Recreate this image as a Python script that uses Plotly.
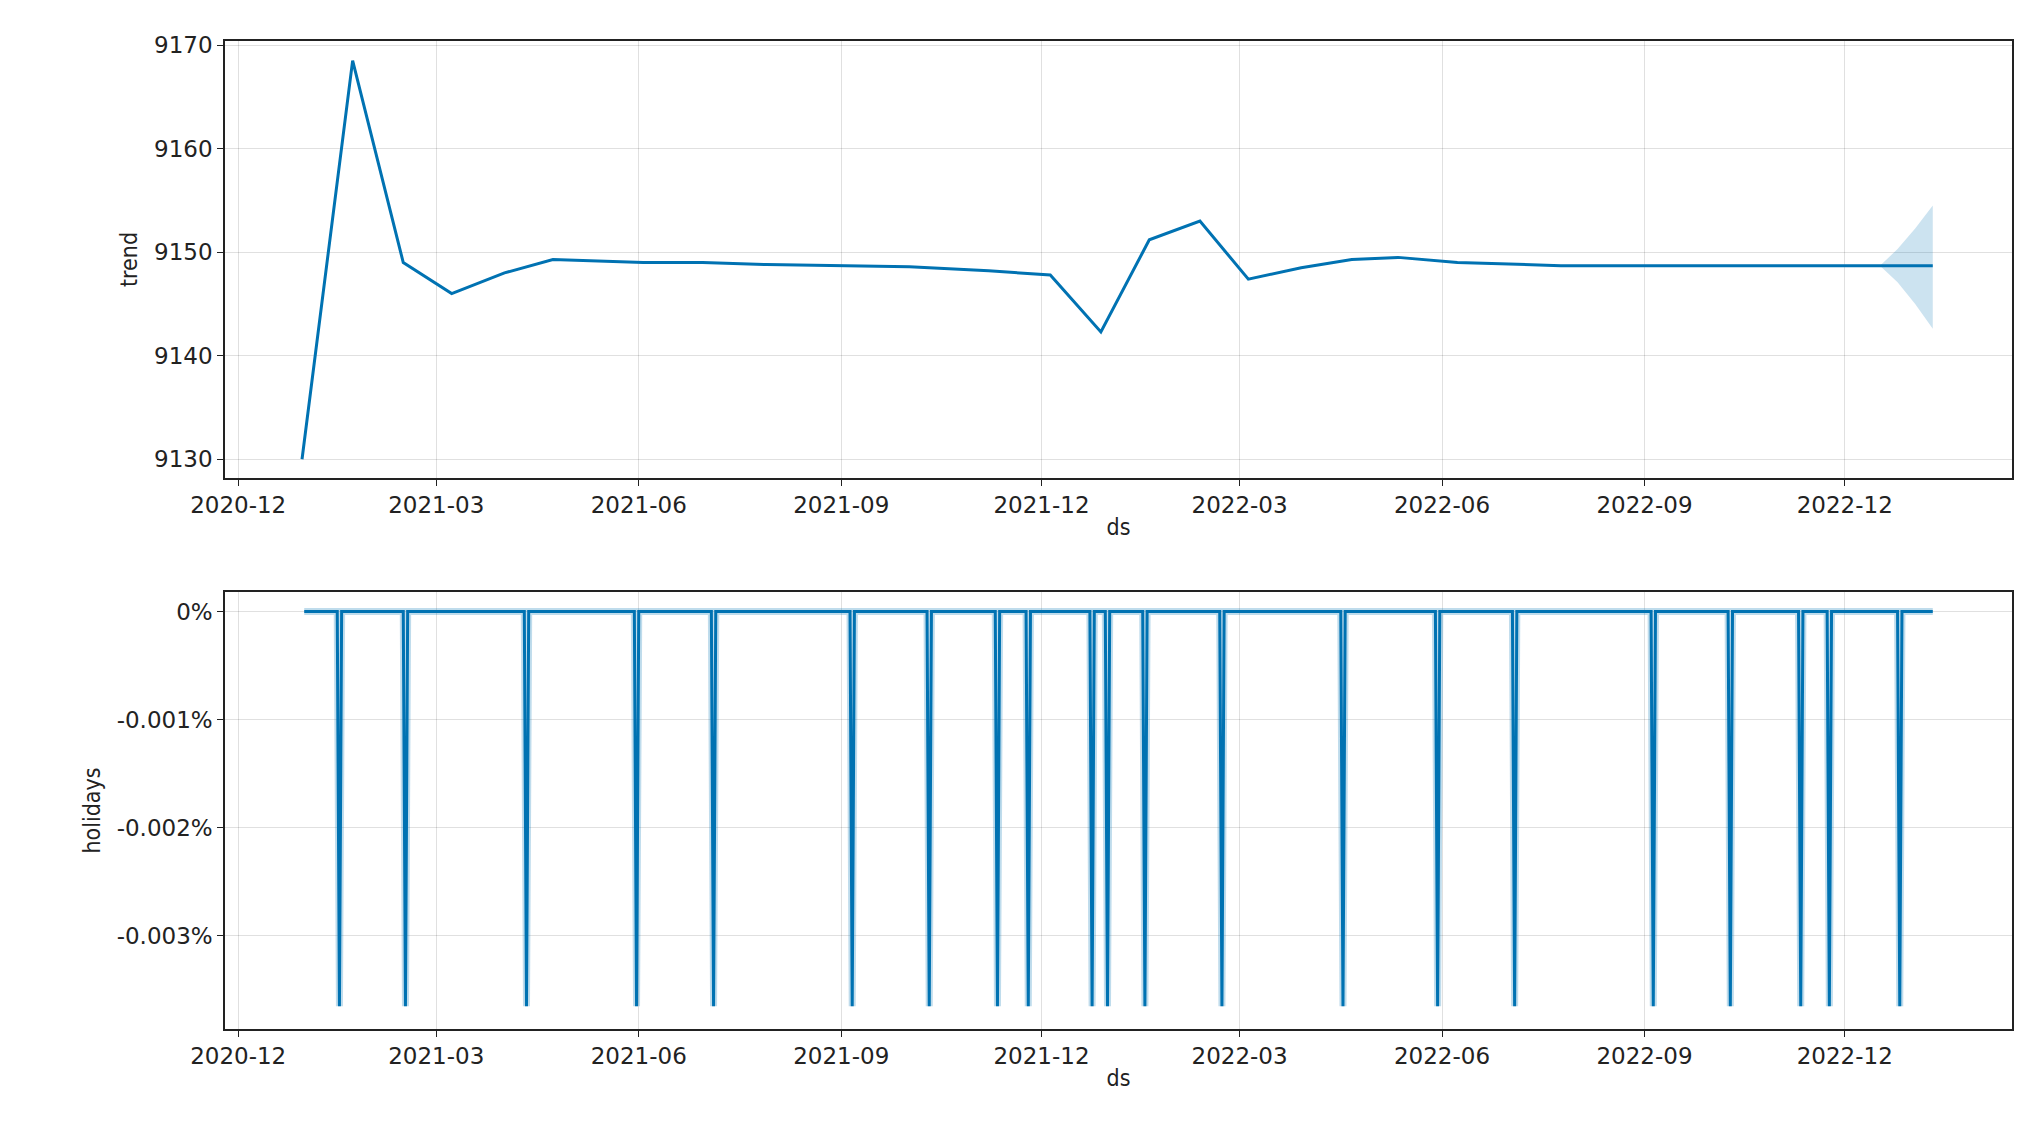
import pandas as pd
import plotly.graph_objects as go
from plotly.subplots import make_subplots

trend_dates = ["2020-12-30","2021-01-22","2021-02-14","2021-03-08","2021-04-01","2021-04-23",
               "2021-06-03","2021-06-30","2021-07-29","2021-09-03","2021-10-02","2021-11-07",
               "2021-12-05","2021-12-28","2022-01-19","2022-02-11","2022-03-05","2022-03-29",
               "2022-04-21","2022-05-12","2022-06-08","2022-07-25","2022-12-17","2023-01-10"]
trend_vals = [9130.0,9168.5,9149.0,9146.0,9148.0,9149.3,9149.0,9149.0,9148.8,9148.7,9148.6,9148.2,
              9147.8,9142.3,9151.2,9153.0,9147.4,9148.5,9149.3,9149.5,9149.0,9148.7,9148.7,9148.7]
band_dates = ["2022-12-17","2022-12-25","2023-01-02","2023-01-10"]
band_upper = [9148.7,9150.3,9152.3,9154.5]
band_lower = [9148.7,9147.1,9145.0,9142.6]

hol_start, hol_end = "2020-12-31", "2023-01-10"
holiday_dates = ["2021-01-16","2021-02-15","2021-04-11","2021-05-31","2021-07-05","2021-09-06",
                 "2021-10-11","2021-11-11","2021-11-25","2021-12-24","2021-12-31","2022-01-17",
                 "2022-02-21","2022-04-17","2022-05-30","2022-07-04","2022-09-05","2022-10-10",
                 "2022-11-11","2022-11-24","2022-12-26"]
holiday_effect = -0.00365

hx, hy = [pd.Timestamp(hol_start)], [0.0]
for d in holiday_dates:
    t = pd.Timestamp(d)
    hx += [t - pd.Timedelta(days=1), t, t + pd.Timedelta(days=1)]
    hy += [0.0, holiday_effect, 0.0]
hx.append(pd.Timestamp(hol_end)); hy.append(0.0)

C = "#0072B2"
fig = make_subplots(rows=2, cols=1, vertical_spacing=0.1156)
fig.add_trace(go.Scatter(x=band_dates, y=band_upper, mode="lines", line=dict(width=0), showlegend=False), 1, 1)
fig.add_trace(go.Scatter(x=band_dates, y=band_lower, mode="lines", line=dict(width=0), fill="tonexty",
                         fillcolor="rgba(0,114,178,0.2)", showlegend=False), 1, 1)
fig.add_trace(go.Scatter(x=trend_dates, y=trend_vals, mode="lines", line=dict(color=C, width=3), showlegend=False), 1, 1)
fig.add_trace(go.Scatter(x=hx, y=hy, mode="lines", line=dict(color="rgba(0,114,178,0.25)", width=7), showlegend=False), 2, 1)
fig.add_trace(go.Scatter(x=hx, y=hy, mode="lines", line=dict(color=C, width=3), showlegend=False), 2, 1)

font = dict(family="DejaVu Sans", size=23, color="#222")
tfont = dict(family="DejaVu Sans Condensed", size=23, color="#222")
xcommon = dict(range=["2020-11-25", "2023-02-15"], tickformat="%Y-%m", dtick="M3", tick0="2020-12-01",
               showgrid=True, gridcolor="rgba(0,0,0,0.12)", showline=True, linecolor="#222", linewidth=1.5,
               mirror=True, ticks="outside", ticklen=6, tickcolor="#222", tickfont=font,
               title=dict(text="ds", font=tfont, standoff=2))
fig.update_xaxes(**xcommon)
ycommon = dict(showgrid=True, gridcolor="rgba(0,0,0,0.12)", showline=True, linecolor="#222", linewidth=1.5,
               mirror=True, ticks="outside", ticklen=6, tickcolor="#222", tickfont=font, zeroline=False)
fig.update_yaxes(**ycommon)
fig.update_yaxes(range=[9128.2, 9170.4], tickvals=[9130, 9140, 9150, 9160, 9170],
                 title=dict(text="trend", font=tfont, standoff=10), row=1, col=1)
fig.update_yaxes(range=[-0.00386, 0.000179], tickvals=[0, -0.001, -0.002, -0.003],
                 ticktext=["0%", "-0.001%", "-0.002%", "-0.003%"],
                 title=dict(text="holidays", font=tfont, standoff=10), row=2, col=1)
fig.update_layout(width=2037, height=1129, margin=dict(l=217, r=33, t=33, b=108),
                  plot_bgcolor="white", paper_bgcolor="white")
fig.write_html("out.html")
